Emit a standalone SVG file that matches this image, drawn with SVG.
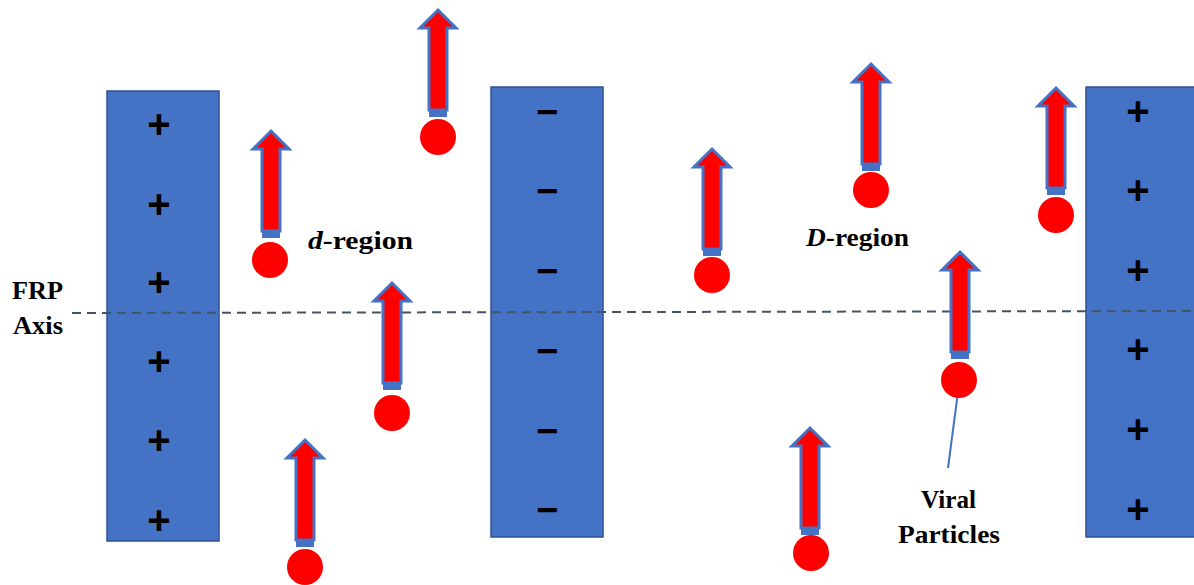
<svg xmlns="http://www.w3.org/2000/svg" width="1194" height="585" viewBox="0 0 1194 585">
<defs>
<style>
.plate{fill:#4472C4;stroke:#2F528F;stroke-width:1.5}
.sign{font-family:"Liberation Sans",Arial,sans-serif;font-weight:bold;font-size:38px;fill:#000;text-anchor:middle}
.plus{font-size:40px}
.lbl{font-family:"Liberation Serif","Times New Roman",serif;font-weight:bold;font-size:26px;fill:#000}
.head{fill:#FF0000;stroke:#4472C4;stroke-width:3;stroke-linejoin:miter}
.base{fill:#4472C4}
.dot{fill:#FF0000}
</style>
<g id="arrowShape">
<polygon class="head" points="0,0 18,18 9,18 9,100 -9,100 -9,18 -18,18"/>
<rect class="base" x="-9" y="99" width="18" height="8"/>
</g>
</defs>
<rect width="1194" height="585" fill="#fff"/>

<g id="plate-left">
<rect class="plate" x="107" y="91" width="112" height="450"/>
<text class="sign plus" x="159" y="138">+</text>
<text class="sign plus" x="159" y="218">+</text>
<text class="sign plus" x="159" y="296">+</text>
<text class="sign plus" x="159" y="375">+</text>
<text class="sign plus" x="159" y="454">+</text>
<text class="sign plus" x="159" y="534">+</text>
</g>
<g id="plate-middle">
<rect class="plate" x="491" y="87" width="112" height="450"/>
<text class="sign" x="547" y="125">−</text>
<text class="sign" x="547" y="204">−</text>
<text class="sign" x="547" y="284">−</text>
<text class="sign" x="547" y="364">−</text>
<text class="sign" x="547" y="444">−</text>
<text class="sign" x="547" y="523">−</text>
</g>
<g id="plate-right">
<rect class="plate" x="1086" y="87" width="112" height="450"/>
<text class="sign plus" x="1138" y="125">+</text>
<text class="sign plus" x="1138" y="204">+</text>
<text class="sign plus" x="1138" y="284">+</text>
<text class="sign plus" x="1138" y="363">+</text>
<text class="sign plus" x="1138" y="443">+</text>
<text class="sign plus" x="1138" y="523">+</text>
</g>

<g id="connectors">
<line x1="72" y1="313" x2="1194" y2="311" stroke="#44546A" stroke-width="2" stroke-dasharray="9,6"/>
<line x1="958" y1="392" x2="948" y2="468" stroke="#4472C4" stroke-width="2"/>
</g>

<g id="particle-1"><use href="#arrowShape" x="271" y="131"/><circle class="dot" cx="270" cy="260" r="18"/></g>
<g id="particle-2"><use href="#arrowShape" x="438" y="10"/><circle class="dot" cx="438" cy="137" r="18"/></g>
<g id="particle-3"><use href="#arrowShape" x="392" y="283"/><circle class="dot" cx="392" cy="413" r="18"/></g>
<g id="particle-4"><use href="#arrowShape" x="305" y="440"/><circle class="dot" cx="305" cy="567" r="18"/></g>
<g id="particle-5"><use href="#arrowShape" x="712" y="149"/><circle class="dot" cx="712" cy="275" r="18"/></g>
<g id="particle-6"><use href="#arrowShape" x="871" y="64"/><circle class="dot" cx="871" cy="190" r="18"/></g>
<g id="particle-7"><use href="#arrowShape" x="960" y="252"/><circle class="dot" cx="959" cy="380" r="18"/></g>
<g id="particle-8"><use href="#arrowShape" x="810" y="428"/><circle class="dot" cx="811" cy="553" r="18"/></g>
<g id="particle-9"><use href="#arrowShape" x="1056" y="88"/><circle class="dot" cx="1056" cy="215" r="18"/></g>

<g id="labels">
<text class="lbl" x="12" y="299" textLength="51" lengthAdjust="spacingAndGlyphs">FRP</text>
<text class="lbl" x="13" y="334" textLength="50" lengthAdjust="spacingAndGlyphs">Axis</text>
<text class="lbl" x="308" y="249" textLength="105" lengthAdjust="spacingAndGlyphs"><tspan font-style="italic">d</tspan>-region</text>
<text class="lbl" x="806" y="246" textLength="103" lengthAdjust="spacingAndGlyphs"><tspan font-style="italic">D</tspan>-region</text>
<text class="lbl" x="921" y="508" textLength="55" lengthAdjust="spacingAndGlyphs">Viral</text>
<text class="lbl" x="898" y="543" textLength="102" lengthAdjust="spacingAndGlyphs">Particles</text>
</g>
</svg>
